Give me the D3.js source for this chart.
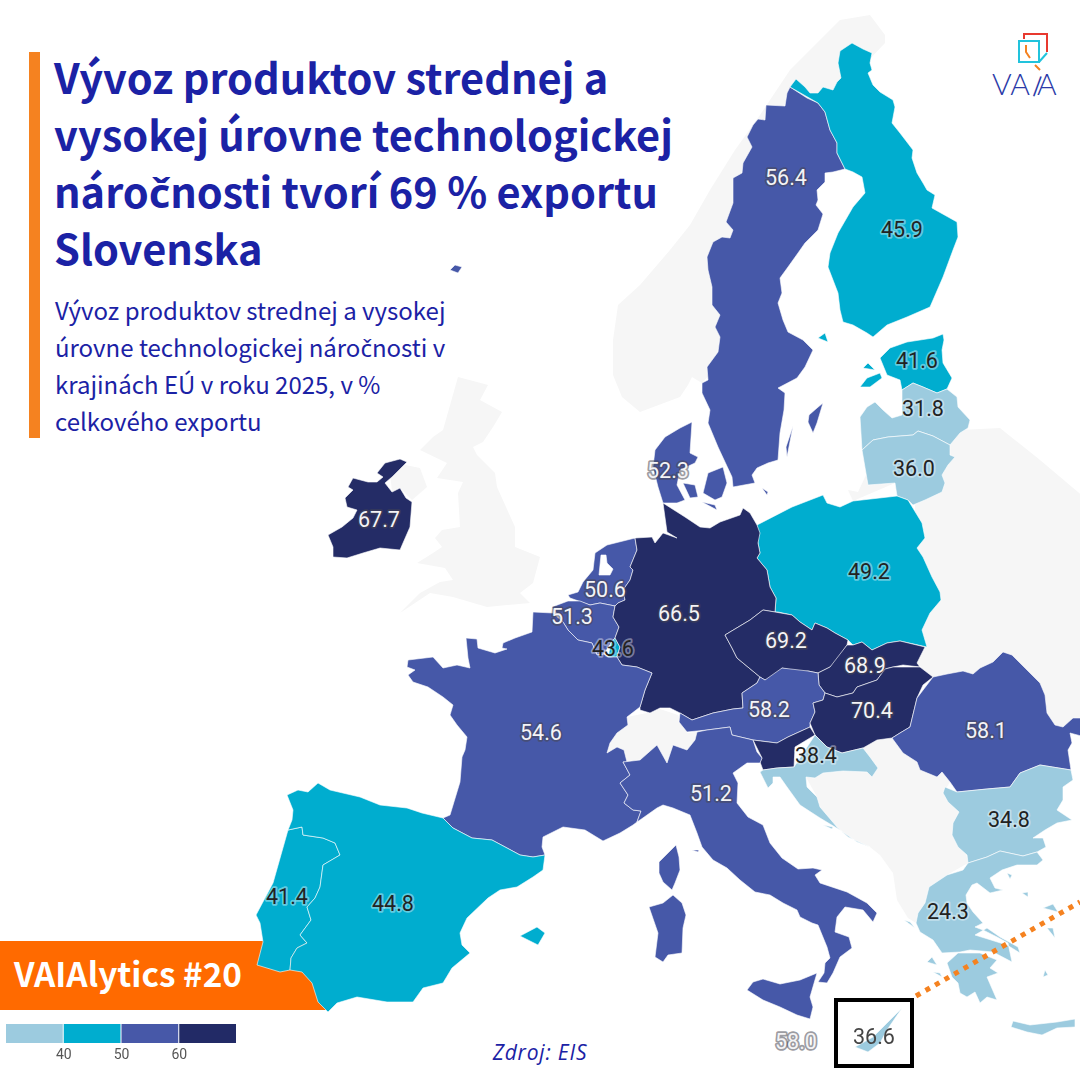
<!DOCTYPE html>
<html>
<head>
<meta charset="utf-8">
<script src="https://cdn.jsdelivr.net/npm/d3@7/dist/d3.min.js"></script>
<style>
  html, body { margin: 0; padding: 0; background: #fff; }
  svg { display: block; }
</style>
</head>
<body>
<script>
// values (% of total export, 2025); SI has no label of its own, its value is a guess from the dark class
var countryCodes  = ["SE","FI","EE","LV","LT","DK","IE","PL","NL","BE","LU","DE","CZ","SK","AT","HU","SI","HR","RO","FR","IT","BG","GR","PT","ES","MT","CY"];
var countryValues = [56.4,45.9,41.6,31.8,36.0,52.3,67.7,49.2,50.6,51.3,43.6,66.5,69.2,68.9,58.2,70.4,65.0,38.4,58.1,54.6,51.2,34.8,24.3,41.4,44.8,58.0,36.6];

var legendBreaks = [40, 50, 60];
var legendColors = ["#9ccbdf", "#00adcf", "#4658a8", "#242c66"];

var titleLines = ["Vývoz produktov strednej a", "vysokej úrovne technologickej", "náročnosti tvorí 69 % exportu", "Slovenska"];
var subtitleLines = ["Vývoz produktov strednej a vysokej", "úrovne technologickej náročnosti v", "krajinách EÚ v roku 2025, v %", "celkového exportu"];

// popisky: text a kotva v mapovej mriezke (km)
var labelTexts = ["56.4","45.9","41.6","31.8","36.0","52.3","67.7","49.2","50.6","51.3","43.6","66.5","69.2","68.9","58.2","70.4","58.1","38.4","54.6","51.2","34.8","24.3","41.4","44.8","58.0","36.6"];
var labelAnchors = [[1144,3612],[1608,3404],[1668,2880],[1692,2688],[1656,2448],[672,2440],[-484,2244],[1476,2036],[420,1964],[288,1856],[452,1728],[716,1868],[1144,1760],[1460,1660],[1076,1484],[1488,1480],[1944,1400],[1264,1300],[164,1392],[844,1148],[2036,1044],[1792,676],[-852,736],[-428,708],[1184,156],[1496,176]];

// outlines, planar grid in km (easting, northing)
var SE = [[[1160,3972],[1228,3928],[1272,3908],[1300,3872],[1320,3800],[1348,3748],[1348,3708],[1380,3644],[1332,3632],[1300,3628],[1300,3592],[1268,3560],[1272,3520],[1264,3500],[1292,3464],[1272,3400],[1220,3348],[1192,3308],[1152,3252],[1120,3208],[1128,3148],[1112,3108],[1132,3040],[1152,2992],[1212,2960],[1252,2920],[1220,2852],[1188,2808],[1112,2768],[1140,2748],[1136,2680],[1120,2588],[1112,2480],[1072,2468],[1028,2448],[1008,2420],[1020,2388],[932,2372],[928,2412],[872,2532],[832,2628],[840,2680],[808,2748],[808,2788],[832,2800],[828,2852],[872,2912],[880,2972],[860,3012],[880,3060],[848,3100],[848,3172],[832,3240],[828,3292],[852,3352],[888,3372],[920,3368],[932,3400],[904,3432],[932,3508],[932,3608],[968,3628],[972,3668],[1008,3732],[988,3772],[1012,3820],[1032,3844],[1060,3840],[1064,3900],[1140,3896],[1148,3948],[1132,3968]],
  [[1292,2708],[1268,2688],[1236,2660],[1232,2632],[1252,2588],[1268,2628],[1272,2680]],
  [[1172,2616],[1144,2532],[1148,2492],[1160,2548]]];
var FI = [[[1160,3972],[1184,4004],[1220,3972],[1240,3948],[1272,3948],[1292,3972],[1332,3960],[1348,3992],[1364,4008],[1352,4068],[1360,4116],[1408,4148],[1452,4124],[1488,4108],[1480,4068],[1488,4040],[1472,4028],[1492,3980],[1520,3952],[1572,3920],[1580,3892],[1568,3828],[1600,3788],[1652,3720],[1648,3688],[1668,3628],[1692,3588],[1708,3560],[1740,3540],[1728,3488],[1828,3432],[1832,3372],[1812,3320],[1772,3212],[1720,3092],[1628,3052],[1548,3020],[1492,2972],[1468,2988],[1412,3020],[1372,3032],[1360,3080],[1352,3148],[1312,3252],[1320,3308],[1352,3388],[1412,3492],[1460,3548],[1448,3612],[1412,3632],[1380,3644],[1348,3708],[1348,3748],[1320,3800],[1300,3872],[1272,3908],[1228,3928]],
  [[1272,2968],[1300,2988],[1312,2952],[1288,2952]]];
var EE = [[[1520,2888],[1560,2928],[1628,2952],[1732,2968],[1772,2984],[1776,2960],[1768,2920],[1772,2868],[1808,2808],[1788,2764],[1748,2748],[1692,2772],[1652,2788],[1608,2760],[1600,2800],[1548,2820],[1528,2848]],
  [[1440,2772],[1468,2808],[1520,2828],[1528,2808],[1480,2772],[1468,2732]],
  [[1452,2848],[1472,2868],[1500,2840],[1472,2820]]];
var LV = [[[1440,2652],[1468,2692],[1500,2712],[1532,2680],[1568,2648],[1608,2660],[1608,2760],[1652,2788],[1692,2772],[1748,2748],[1788,2764],[1828,2732],[1832,2692],[1880,2640],[1872,2608],[1840,2588],[1800,2540],[1732,2576],[1672,2596],[1652,2580],[1552,2572],[1492,2560],[1448,2520],[1428,2572]]];
var LT = [[[1448,2520],[1492,2560],[1552,2572],[1652,2580],[1672,2596],[1732,2576],[1800,2540],[1800,2500],[1820,2492],[1792,2460],[1768,2420],[1780,2388],[1768,2352],[1700,2320],[1652,2300],[1632,2320],[1588,2336],[1580,2388],[1472,2380],[1468,2428]]];
var DK = [[[768,2632],[720,2608],[660,2572],[620,2520],[612,2452],[632,2372],[652,2308],[708,2308],[740,2320],[708,2380],[720,2440],[780,2468],[792,2492],[760,2508],[748,2560]],
  [[832,2428],[892,2452],[908,2388],[888,2332],[860,2320],[812,2348],[804,2392]],
  [[732,2388],[780,2380],[792,2332],[760,2328],[732,2348]],
  [[808,2312],[860,2300],[868,2280],[820,2292]],
  [[1048,2368],[1072,2352],[1068,2340],[1048,2348]],
  [[-200,3240],[-180,3260],[-152,3252],[-168,3228],[-180,3220]],
  [[-192,3180],[-184,3160],[-192,3156]]];
var IE = [[[-688,2180],[-668,2132],[-668,2092],[-612,2088],[-548,2108],[-480,2128],[-400,2120],[-388,2148],[-360,2212],[-352,2312],[-376,2328],[-400,2368],[-432,2352],[-460,2388],[-432,2412],[-392,2452],[-372,2472],[-400,2484],[-460,2468],[-492,2428],[-468,2412],[-492,2392],[-528,2392],[-588,2408],[-608,2372],[-588,2360],[-620,2328],[-612,2292],[-572,2280],[-588,2248],[-632,2212],[-640,2192]]];
var DE = [[[652,2308],[740,2252],[800,2212],[840,2208],[880,2232],[960,2260],[972,2288],[1000,2268],[1028,2220],[1040,2188],[1032,2148],[1040,2108],[1028,2088],[1068,2040],[1080,1972],[1104,1928],[1100,1872],[1052,1880],[1000,1840],[920,1792],[900,1780],[928,1728],[948,1688],[1040,1612],[1028,1588],[968,1548],[972,1488],[932,1484],[852,1468],[768,1440],[720,1468],[680,1488],[640,1488],[600,1468],[560,1480],[560,1492],[580,1560],[608,1628],[548,1652],[488,1660],[468,1692],[480,1732],[460,1768],[476,1812],[452,1852],[460,1896],[472,1908],[500,1920],[492,1960],[520,2000],[532,2040],[520,2052],[548,2120],[540,2168],[608,2172],[620,2148],[652,2188],[708,2168],[668,2192],[652,2252]]];
var PL = [[[1028,2220],[1168,2292],[1292,2340],[1308,2308],[1360,2292],[1412,2316],[1588,2336],[1632,2320],[1688,2228],[1700,2168],[1668,2128],[1692,2092],[1728,2012],[1760,1952],[1764,1920],[1720,1868],[1688,1800],[1708,1732],[1600,1756],[1548,1748],[1488,1720],[1448,1752],[1412,1740],[1392,1760],[1340,1788],[1308,1808],[1260,1828],[1248,1800],[1200,1832],[1168,1860],[1112,1872],[1100,1872],[1104,1928],[1080,1972],[1068,2040],[1028,2088],[1040,2108],[1032,2148],[1040,2188]]];
var CZ = [[[1100,1872],[1052,1880],[1000,1840],[920,1792],[900,1780],[928,1728],[948,1688],[1040,1612],[1060,1600],[1112,1620],[1128,1648],[1200,1632],[1232,1636],[1272,1628],[1320,1652],[1348,1680],[1388,1740],[1392,1760],[1340,1788],[1308,1808],[1260,1828],[1248,1800],[1200,1832],[1168,1860],[1112,1872]]];
var SK = [[[1388,1740],[1412,1740],[1448,1752],[1488,1720],[1548,1748],[1600,1756],[1700,1732],[1668,1668],[1680,1652],[1612,1660],[1572,1652],[1540,1644],[1508,1600],[1428,1572],[1412,1548],[1348,1532],[1300,1548],[1276,1580],[1272,1628],[1320,1652],[1348,1680]]];
var HU = [[[1680,1652],[1732,1612],[1692,1580],[1668,1528],[1640,1412],[1600,1388],[1568,1368],[1508,1360],[1452,1328],[1368,1308],[1308,1332],[1260,1380],[1240,1428],[1260,1472],[1252,1508],[1292,1520],[1300,1548],[1348,1532],[1412,1548],[1428,1572],[1508,1600],[1540,1644],[1572,1652],[1612,1660]]];
var AT = [[[1128,1648],[1060,1600],[1040,1612],[1028,1588],[968,1548],[972,1488],[932,1484],[852,1468],[768,1440],[720,1468],[716,1432],[748,1392],[828,1400],[920,1412],[928,1380],[1012,1360],[1108,1348],[1152,1372],[1240,1412],[1240,1428],[1260,1472],[1252,1508],[1292,1520],[1300,1548],[1276,1580],[1272,1628],[1232,1636],[1200,1632]]];
var SI = [[[1012,1360],[1108,1348],[1152,1372],[1240,1412],[1260,1380],[1180,1332],[1176,1252],[1108,1248],[1052,1240],[1040,1272],[1048,1288],[1028,1312]]];
var HR = [[[1260,1380],[1308,1332],[1368,1308],[1452,1328],[1480,1292],[1512,1248],[1488,1212],[1468,1232],[1372,1236],[1292,1228],[1260,1208],[1224,1212],[1228,1172],[1268,1132],[1280,1092],[1348,1012],[1392,972],[1480,932],[1428,952],[1360,1000],[1280,1048],[1200,1100],[1148,1172],[1120,1212],[1092,1212],[1092,1188],[1072,1168],[1040,1232],[1052,1240],[1108,1248],[1176,1252],[1180,1332]],
  [[1292,1020],[1332,1012],[1328,1004],[1296,1008]],
  [[1112,1180],[1128,1140],[1120,1140]]];
var RO = [[[1732,1612],[1788,1624],[1852,1636],[1892,1624],[1920,1648],[1972,1672],[2012,1712],[2048,1700],[2100,1648],[2160,1588],[2180,1540],[2188,1468],[2220,1420],[2252,1412],[2292,1448],[2340,1448],[2340,1372],[2280,1388],[2288,1348],[2272,1320],[2284,1240],[2160,1260],[2080,1228],[2040,1172],[1948,1164],[1828,1152],[1800,1192],[1768,1232],[1748,1212],[1680,1240],[1668,1272],[1612,1308],[1568,1368],[1600,1388],[1640,1412],[1668,1528],[1692,1580]]];
var BG = [[[1828,1152],[1948,1164],[2040,1172],[2080,1228],[2160,1260],[2284,1240],[2292,1200],[2252,1172],[2252,1120],[2228,1080],[2288,1040],[2228,1028],[2180,1000],[2132,968],[2172,968],[2184,932],[2148,912],[2092,896],[2000,916],[1948,892],[1872,868],[1868,900],[1832,932],[1808,980],[1812,1028],[1836,1072],[1792,1112],[1772,1148],[1780,1172],[1800,1192]]];
var GR = [[[1716,772],[1788,820],[1852,840],[1872,868],[1948,892],[2000,916],[2092,896],[2148,912],[2172,880],[2148,860],[2068,860],[2008,840],[1960,808],[1980,768],[2012,760],[1960,748],[1908,788],[1888,780],[1864,740],[1868,708],[1892,672],[1932,628],[1900,612],[1932,600],[1988,572],[2032,548],[2048,472],[1972,512],[1880,520],[1840,512],[1768,508],[1732,560],[1680,592],[1664,628],[1672,668],[1700,708],[1716,740]],
  [[1788,468],[1832,508],[1920,508],[1988,480],[1960,448],[1992,428],[1948,412],[1988,320],[1948,332],[1920,308],[1900,352],[1868,332],[1840,348],[1832,388],[1808,412],[1780,440]],
  [[1900,580],[1948,608],[2000,572],[2072,532],[2080,508],[2028,540],[1960,568]],
  [[2044,212],[2052,236],[2120,220],[2228,232],[2300,244],[2300,212],[2228,208],[2168,180],[2108,192],[2048,188]],
  [[2172,688],[2212,704],[2232,672],[2192,668]],
  [[2188,608],[2212,608],[2220,568],[2200,568]],
  [[2272,536],[2312,532],[2292,520]],
  [[2088,748],[2112,752],[2112,732],[2088,732]],
  [[2028,828],[2048,820],[2040,804],[2024,812]],
  [[1708,472],[1728,492],[1748,460],[1720,468]],
  [[1616,640],[1640,632],[1660,608],[1632,620]],
  [[1732,432],[1760,428],[1768,412],[1740,420]],
  [[1968,300],[1984,288],[1972,280]],
  [[2180,440],[2192,420],[2172,412],[2156,420]],
  [[2100,512],[2128,492],[2108,492]],
  [[2088,372],[2108,372],[2092,360]],
  [[2228,500],[2252,512],[2248,496]]];
var IT = [[[492,1272],[520,1220],[480,1188],[512,1140],[496,1108],[532,1080],[564,1076],[548,1032],[560,1040],[628,1088],[652,1100],[692,1088],[760,1060],[788,988],[808,932],[852,880],[908,848],[960,800],[1020,752],[1080,740],[1132,708],[1188,680],[1200,652],[1248,628],[1272,620],[1308,532],[1320,488],[1300,468],[1296,428],[1272,392],[1308,388],[1332,428],[1360,492],[1408,528],[1396,572],[1340,592],[1348,652],[1380,692],[1452,680],[1492,632],[1508,668],[1468,708],[1388,752],[1280,788],[1260,820],[1288,840],[1252,848],[1192,844],[1128,888],[1080,948],[1052,1020],[992,1052],[948,1108],[952,1188],[932,1228],[988,1268],[1040,1268],[1048,1288],[1028,1312],[1012,1360],[928,1380],[920,1412],[828,1400],[788,1392],[780,1360],[748,1320],[692,1340],[668,1268],[628,1340],[560,1280],[508,1272]],
  [[988,360],[1012,392],[1052,404],[1120,384],[1200,400],[1268,428],[1240,332],[1252,292],[1240,244],[1188,260],[1120,292],[1052,320],[1000,332]],
  [[596,692],[652,708],[692,740],[728,708],[744,660],[732,608],[728,508],[672,500],[652,472],[620,492],[632,588],[608,652]],
  [[768,920],[796,920],[792,912],[772,912]]];
var FR = [[[132,1872],[128,1792],[60,1768],[12,1748],[8,1728],[28,1724],[-20,1708],[-88,1728],[-92,1764],[-136,1768],[-128,1688],[-120,1648],[-172,1660],[-228,1648],[-268,1692],[-368,1680],[-372,1652],[-340,1640],[-368,1620],[-348,1592],[-288,1572],[-228,1532],[-188,1500],[-200,1460],[-172,1420],[-132,1372],[-140,1320],[-152,1292],[-160,1192],[-200,1060],[-228,1048],[-188,1008],[-112,968],[-32,960],[28,928],[80,900],[132,892],[180,900],[168,932],[172,972],[252,1012],[340,1000],[412,956],[480,988],[532,1020],[548,1032],[564,1076],[532,1080],[496,1108],[512,1140],[480,1188],[520,1220],[492,1272],[508,1272],[496,1320],[468,1332],[428,1308],[440,1348],[468,1388],[512,1420],[508,1452],[560,1492],[580,1560],[608,1628],[548,1652],[488,1660],[468,1692],[432,1692],[416,1704],[388,1700],[368,1748],[312,1760],[272,1800],[252,1832],[212,1868],[208,1892]],
  [[704,940],[716,892],[720,840],[700,788],[688,760],[652,792],[636,828],[636,872],[672,900]]];
var BE = [[[208,1892],[272,1916],[320,1916],[360,1900],[400,1908],[460,1896],[452,1852],[476,1812],[460,1768],[444,1748],[416,1704],[388,1700],[368,1748],[312,1760],[272,1800],[252,1832],[212,1868]]];
var LU = [[[444,1748],[460,1768],[480,1732],[468,1692],[432,1692],[416,1704]]];
// second ring of NL is the IJsselmeer, cut out by evenodd
var NL = [[[280,1928],[272,1940],[312,1952],[332,1992],[372,2040],[380,2108],[428,2140],[540,2168],[548,2120],[520,2052],[532,2040],[520,2000],[492,1960],[500,1920],[472,1908],[460,1896],[400,1908],[360,1900],[320,1916]],
  [[404,2100],[424,2100],[428,2068],[452,2044],[440,2020],[396,2020],[400,2048]]];
var PT = [[[-848,1000],[-792,1012],[-788,980],[-708,968],[-660,948],[-640,900],[-708,860],[-720,772],[-740,728],[-772,692],[-756,640],[-800,580],[-772,548],[-812,528],[-836,488],[-840,440],[-880,432],[-972,460],[-948,552],[-960,628],[-976,660],[-908,788],[-860,880]]];
var ES = [[[-852,1140],[-808,1160],[-768,1152],[-728,1188],[-680,1160],[-560,1132],[-480,1100],[-372,1088],[-312,1068],[-228,1048],[-188,1008],[-112,968],[-32,960],[28,928],[80,900],[132,892],[180,900],[172,840],[132,812],[68,772],[0,760],[-48,728],[-132,648],[-160,588],[-152,540],[-120,508],[-192,448],[-228,388],[-308,368],[-348,312],[-452,312],[-572,332],[-652,308],[-688,272],[-728,312],[-752,388],[-792,432],[-840,440],[-836,488],[-812,528],[-772,548],[-800,580],[-756,640],[-772,692],[-740,728],[-720,772],[-708,860],[-640,900],[-660,948],[-708,968],[-788,980],[-792,1012],[-848,1000],[-832,1040],[-828,1080],[-852,1120]],
  [[80,576],[148,612],[180,588],[152,540],[108,560]],
  [[212,612],[240,616],[240,604]],
  [[-28,512],[8,528],[-12,500]]];
var MT = [[[1172,156],[1188,148],[1180,140]]];
var CY = [[[1420,132],[1492,172],[1548,228],[1608,288],[1548,200],[1520,148],[1472,112],[1420,112]]];

// non-EU land, painted first, the EU countries cover its inner edges
var otherLand = [
  [[560,2672],[488,2732],[452,2820],[452,2960],[472,3100],[560,3180],[680,3320],[760,3420],[840,3560],[940,3720],[1040,3860],[1160,4040],[1260,4140],[1360,4240],[1480,4260],[1540,4180],[1540,4148],[1400,4000],[1100,3700],[1000,3000],[808,2788],[768,2812],[752,2780],[720,2732],[640,2688]],
  [[-168,2812],[-92,2792],[-48,2780],[-80,2720],[8,2672],[-28,2612],[-68,2552],[-108,2532],[-92,2500],[-20,2428],[-12,2372],[60,2212],[60,2132],[160,2092],[132,1988],[80,1948],[120,1908],[-52,1892],[-188,1932],[-280,1948],[-400,1868],[-320,1948],[-240,1992],[-188,2000],[-220,2048],[-332,2068],[-268,2108],[-232,2132],[-260,2168],[-232,2200],[-160,2212],[-168,2348],[-148,2392],[-252,2408],[-212,2468],[-320,2520],[-268,2572],[-228,2600],[-252,2680]],
  [[-440,2428],[-380,2460],[-320,2448],[-292,2372],[-352,2320],[-400,2368],[-432,2352],[-460,2388]],
  [[-292,2792],[-240,2820],[-268,2752]],
  [[-52,2852],[-20,2868],[-48,2820]],
  [[80,3000],[120,3028],[88,2928]],
  [[1840,2600],[2000,2608],[2160,2480],[2340,2328],[2340,1420],[2240,1380],[2000,1520],[1760,1560],[1660,1680],[1660,2320],[1700,2440]],
  [[1412,2316],[1392,2360],[1432,2352],[1468,2428],[1472,2380],[1580,2388],[1588,2336]],
  [[628,1488],[588,1468],[508,1452],[512,1420],[468,1388],[440,1348],[428,1308],[468,1332],[496,1320],[508,1272],[560,1280],[628,1340],[668,1268],[692,1340],[748,1320],[780,1360],[788,1392],[748,1388],[712,1460],[680,1488]],
  [[1224,1212],[1292,1228],[1372,1236],[1468,1232],[1512,1248],[1480,1292],[1452,1328],[1508,1360],[1568,1368],[1612,1308],[1668,1272],[1680,1240],[1748,1212],[1768,1232],[1800,1192],[1780,1160],[1792,1112],[1836,1072],[1812,1028],[1808,980],[1832,932],[1868,900],[1872,868],[1788,820],[1716,772],[1700,708],[1672,668],[1664,628],[1632,648],[1588,720],[1572,828],[1520,900],[1480,932],[1392,972],[1348,1012],[1280,1092],[1268,1132],[1228,1172]]
];

var outlines = {SE:SE,FI:FI,EE:EE,LV:LV,LT:LT,DK:DK,IE:IE,PL:PL,NL:NL,BE:BE,LU:LU,DE:DE,CZ:CZ,SK:SK,AT:AT,HU:HU,SI:SI,HR:HR,RO:RO,FR:FR,IT:IT,BG:BG,GR:GR,PT:PT,ES:ES,MT:MT,CY:CY};

var ink = "#1b22a5";
var headFont = "'Noto Sans CJK SC'";
var svg = d3.select("body").append("svg").attr("width", 1080).attr("height", 1080);

// the reference is slightly soft around the pasted inset and legend
svg.append("defs").append("filter").attr("id", "soft").append("feGaussianBlur").attr("stdDeviation", 0.7);

var x = d3.scaleLinear().domain([-2000, 2320]).range([0, 1080]);
var y = d3.scaleLinear().domain([4320, 0]).range([0, 1080]);
var grid = d3.geoTransform({ point: function(e, n) { this.stream.point(x(e), y(n)); } });
var path = d3.geoPath(grid);
var color = d3.scaleThreshold().domain(legendBreaks).range(legendColors);

function feature(rings) {
  return { type: "MultiPolygon", coordinates: rings.map(function(r) { return [r]; }) };
}

// CJK font breaks the caron on c, so that one letter goes in a tspan with Noto Sans
function fillLine(d) {
  var t = d3.select(this);
  d.split("č").forEach(function(part, i) {
    if (i > 0) t.append("tspan").style("font-family", "Noto Sans").text("č");
    t.append("tspan").text(part);
  });
}

// banner sits under the map, Iberia's coast cuts into it
svg.append("rect").attr("x", 0).attr("y", 941).attr("width", 328).attr("height", 69).attr("fill", "#ff6a00");

svg.append("g").selectAll("path").data(otherLand).enter().append("path")
  .attr("d", function(r) { return path(feature([r])); })
  .attr("fill", "#f6f6f6");

svg.append("g").selectAll("path").data(countryCodes).enter().append("path")
  .attr("d", function(c) {
    // NL has a lake as second ring
    if (c == "NL") return path({ type: "Polygon", coordinates: outlines[c] });
    return path(feature(outlines[c]));
  })
  .attr("fill", function(c, i) { return color(countryValues[i]); })
  .attr("fill-rule", "evenodd")
  .attr("filter", function(c) { return c == "CY" ? "url(#soft)" : null; })
  .attr("stroke", "#fff").attr("stroke-opacity", 0.75).attr("stroke-width", 0.8);

// labels
svg.append("g").selectAll("text").data(labelTexts).enter().append("text")
  .attr("x", function(d, i) { return x(labelAnchors[i][0]); })
  .attr("y", function(d, i) { return y(labelAnchors[i][1]); })
  .attr("dy", "0.36em")
  .attr("text-anchor", "middle")
  .attr("filter", function(d) { return d == "36.6" ? "url(#soft)" : null; })
  .style("font-family", "Roboto").style("font-size", "21.5px")
  .style("paint-order", "stroke")
  .attr("stroke-width", 3.5)
  .attr("stroke-linejoin", "round")
  .attr("stroke", function(d) {
    if (d == "36.6") return "none";
    return +d >= 50 ? "rgba(70,70,80,0.55)" : "rgba(255,255,255,0.4)";
  })
  .attr("fill", function(d) {
    if (d == "36.6") return "#444";
    return +d >= 50 ? "#f4f4f6" : "#222";
  })
  .text(function(d) { return d; });

// Cyprus inset and its leader
svg.append("line").attr("x1", 916).attr("y1", 996).attr("x2", 1080).attr("y2", 902)
  .attr("stroke", "#f58220").attr("stroke-width", 5).attr("stroke-dasharray", "5 6");
svg.append("rect").attr("x", 836).attr("y", 1000).attr("width", 76).attr("height", 66)
  .attr("fill", "none").attr("stroke", "#000").attr("stroke-width", 4);

// header
svg.append("rect").attr("x", 29).attr("y", 52).attr("width", 11).attr("height", 386).attr("fill", "#f58220");
svg.append("g").selectAll("text").data(titleLines).enter().append("text")
  .attr("x", 54).attr("y", function(d, i) { return 94 + i * 57; })
  .attr("fill", ink)
  .style("font-family", headFont).style("font-weight", 700).style("font-size", "41.5px")
  .each(fillLine);
svg.append("g").selectAll("text").data(subtitleLines).enter().append("text")
  .attr("x", 55).attr("y", function(d, i) { return 320 + i * 37; })
  .attr("fill", ink)
  .style("font-family", headFont).style("font-size", "24px")
  .each(fillLine);

svg.append("text").attr("x", 14).attr("y", 987).attr("fill", "#fff")
  .style("font-family", headFont).style("font-weight", 700).style("font-size", "33.3px")
  .text("VAIAlytics #20");

svg.append("text").attr("x", 540).attr("y", 1060).attr("text-anchor", "middle").attr("fill", ink)
  .style("font-family", "Open Sans").style("font-style", "italic").style("font-size", "21px").style("letter-spacing", "0.8px")
  .text("Zdroj: EIS");

// legend
var legendX = d3.scaleLinear().domain([30, 70]).range([6, 237]);
var legendBins = [30].concat(legendBreaks);
var legend = svg.append("g").attr("filter", "url(#soft)");
legend.selectAll("rect").data(legendBins).enter().append("rect")
  .attr("x", function(d) { return legendX(d); })
  .attr("y", 1024).attr("height", 19)
  .attr("width", function(d) { return legendX(d + 10) - legendX(d) - 1; })
  .attr("fill", function(d) { return color(d); });
legend.selectAll("text").data(legendBreaks).enter().append("text")
  .attr("x", function(d) { return legendX(d); }).attr("y", 1059)
  .attr("text-anchor", "middle").attr("fill", "#555")
  .style("font-family", "Roboto").style("font-size", "14px")
  .text(function(d) { return d; });

// logo
var logo = svg.append("g").attr("fill", "none").attr("stroke-width", 2);
logo.append("path").attr("d", "M1024,39V34H1047V52").attr("stroke", "#e8392f");
logo.append("path").attr("d", "M1019,41H1039V62H1019ZM1039,62L1047,53").attr("stroke", "#22c3dc");
logo.append("path").attr("d", "M1026,45V52L1030,58M1035,65L1040,70").attr("stroke", "#f58220");
var logoText = svg.append("g").attr("fill", "#2b3aa8").style("font-family", "Lato").style("font-weight", 300).style("font-size", "30px");
logoText.append("text").attr("x", 992).attr("y", 95).text("VA");
logoText.append("text").attr("x", 0).attr("y", 0).attr("transform", "translate(1030,95) rotate(20)").text("I");
logoText.append("text").attr("x", 1037).attr("y", 95).text("A");
</script>
</body>
</html>
